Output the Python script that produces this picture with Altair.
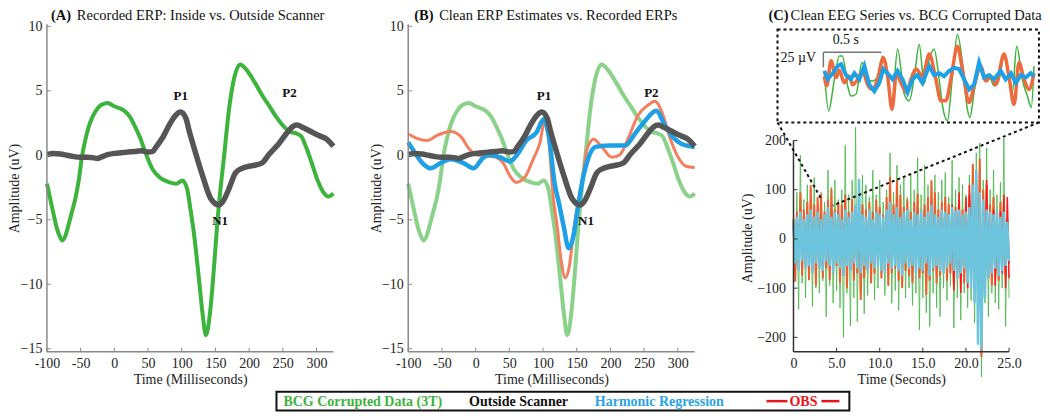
import altair as alt
import pandas as pd

FONT = "Liberation Serif"
H = 328          # plot height shared by the three panels
WA = 287
WC = 216

# ---------------- ERP data (panels A and B) ----------------
bcg_t = [-100, -95, -90, -85, -80, -77, -73, -68, -63, -58, -53, -48, -43, -38, -33, -28, -22, -15, -10, -5,
         0, 8, 15, 23, 30, 38, 47, 57, 67, 82, 92, 101, 108, 113, 118, 126, 131, 136, 142, 148,
         153, 156, 163, 170, 177, 187, 195, 209, 220, 229, 240, 253, 262, 270, 277, 284, 293, 302, 310, 318, 325]
bcg_v = [-2.2, -3.4, -4.6, -5.7, -6.4, -6.6, -6.3, -5.4, -4.4, -3.4, -2.0, -0.1, 1.2, 2.2, 2.9, 3.4, 3.8, 4.0, 4.05, 3.95,
         3.8, 3.65, 3.45, 3.0, 2.3, 1.4, 0.1, -1.1, -1.7, -2.1, -2.2, -1.95, -2.6, -4.2, -6.0, -9.8, -12.3, -13.95, -12.2, -8.6,
         -5.1, -3.4, 0.0, 3.5, 5.8, 7.05, 6.7, 5.6, 4.6, 3.9, 3.0, 2.15, 1.8, 1.7, 1.5, 0.7, -0.6, -2.0, -2.85, -3.2, -2.95]

out_t = [-100, -90, -80, -70, -60, -50, -40, -30, -25, -20, -10, 0, 10, 20, 30, 40, 50, 57, 62, 72,
         82, 91, 98, 106, 111, 121, 131, 143, 155, 162, 170, 180, 190, 200, 210, 219, 230, 244, 257, 264,
         271, 280, 295, 305, 315, 320, 325]
out_v = [0.05, 0.15, 0.1, 0.0, -0.1, -0.15, -0.15, -0.2, -0.25, -0.15, 0.05, 0.15, 0.2, 0.25, 0.3, 0.35, 0.25, 0.3, 0.65, 1.4,
         2.4, 3.1, 3.35, 2.9, 1.9, 0.1, -1.6, -3.35, -3.85, -3.5, -2.6, -1.35, -1.0, -0.85, -0.75, -0.6, 0.1, 0.9, 1.8, 2.2,
         2.35, 2.15, 1.75, 1.5, 1.25, 1.0, 0.7]

obs_t = [-100, -86, -72, -55, -37, -23, -8, 2, 15, 26, 41, 51, 60, 73, 85, 95, 102, 109, 115, 121,
         127, 133, 139, 146, 153, 158, 165, 175, 188, 202, 214, 227, 241, 256, 266, 276, 288, 300, 312, 325]
obs_v = [1.65, 1.3, 1.15, 1.6, 1.85, 1.5, 0.4, 0.02, -0.05, -0.1, -0.6, -1.6, -2.1, -1.7, -0.35, 0.9, 2.5, 0.9, -3.2, -5.5,
         -8.2, -9.5, -8.6, -5.6, -3.4, -2.0, 0.4, 1.25, 0.6, -0.15, 0.05, 1.4, 3.1, 3.9, 4.2, 3.4, 1.4, -0.1, -0.85, -0.95]

hr_t = [-100, -91, -79, -67, -52, -37, -18, -3, 11, 21, 36, 51, 63, 75, 90, 101, 109, 117, 124, 131,
        138, 145, 151, 158, 168, 178, 197, 222, 236, 251, 268, 280, 293, 305, 325]
hr_v = [1.0, 0.27, -0.6, -1.0, -0.6, -0.3, -0.6, -1.0, -0.2, 0.02, -0.15, -0.47, 0.15, 1.15, 1.75, 2.8, 1.4, -2.1, -3.8, -5.6,
        -7.2, -6.3, -4.3, -2.1, -0.1, 0.65, 0.77, 0.77, 1.65, 2.65, 3.45, 2.4, 1.4, 0.9, 0.65]

peak_names = ["P1", "P2", "N1"]
peaks_a_t = [98.5, 260, 157]
peaks_b_t = [101.5, 260.7, 163.7]
peaks_v = [4.6, 4.8, -5.1]

erp_ticks_x = [-100, -50, 0, 50, 100, 150, 200, 250, 300]
erp_ticks_y = [-15, -10, -5, 0, 5, 10]

# ---------------- EEG series (panel C), peak / trough per 0.2 s ----------------
green_hi = [60, 95, 170, 80, 110, 85, 125, 70, 95, 75,
            140, 105, 120, 80, 100, 190, 90, 120, 227, 95,
            130, 110, 85, 140, 90, 120, 75, 100, 175, 95,
            150, 110, 125, 85, 130, 100, 165, 90, 150, 110,
            80, 130, 95, 120, 135, 85, 160, 100, 125, 110,
            90, 130, 150, 175, 195, 120, 185, 100, 140, 90,
            115, 205, 70]
green_lo = [-70, -143, -90, -120, -75, -137, -100, -110, -85, -158,
            -95, -130, -105, -140, -200, -110, -177, -120, -168, -100,
            -152, -115, -90, -124, -100, -80, -115, -95, -131, -105,
            -145, -90, -120, -100, -135, -110, -185, -120, -150, -178,
            -110, -140, -158, -100, -125, -95, -181, -120, -165, -110,
            -140, -125, -171, -150, -280, -130, -158, -110, -130, -143,
            -100, -178, -120]
orange_hi = [40, 55, 95, 60, 75, 109, 70, 85, 92, 55,
             80, 102, 60, 75, 71, 90, 55, 80, 65, 50,
             70, 60, 75, 55, 80, 65, 50, 85, 126, 70,
             119, 90, 65, 80, 55, 75, 92, 60, 70, 85,
             119, 95, 60, 75, 85, 71, 55, 65, 80, 60,
             75, 90, 153, 120, 163, 100, 110, 70, 85, 60,
             75, 55, 40]
orange_lo = [-87, -60, -75, -50, -84, -65, -95, -55, -80, -60,
             -84, -70, -55, -90, -75, -100, -60, -85, -70, -124,
             -80, -60, -90, -70, -55, -80, -65, -95, -70, -60,
             -85, -100, -65, -75, -90, -60, -80, -70, -114, -85,
             -65, -90, -75, -60, -85, -70, -95, -65, -80, -90,
             -70, -85, -100, -120, -240, -110, -80, -95, -70, -85,
             -60, -75, -50]
red_hi = [25, 30, 35, 20, 30, 40, 25, 30, 35, 20,
          30, 35, 25, 30, 20, 35, 30, 25, 40, 30,
          35, 25, 30, 20, 35, 30, 25, 30, 40, 35,
          30, 25, 30, 35, 20, 30, 40, 25, 35, 30,
          45, 35, 30, 25, 40, 30, 70, 45, 95, 40,
          85, 110, 60, 50, 70, 55, 120, 45, 60, 40,
          55, 90, 85]
red_lo = [-30, -25, -35, -30, -20, -35, -30, -25, -35, -30,
          -25, -35, -30, -20, -35, -30, -25, -35, -30, -40,
          -30, -25, -35, -30, -25, -35, -30, -20, -35, -30,
          -25, -35, -30, -40, -30, -25, -35, -30, -45, -35,
          -30, -25, -35, -30, -40, -35, -105, -40, -110, -45,
          -100, -80, -60, -90, -70, -120, -55, -50, -95, -60,
          -70, -100, -80]
cyan_hi = [35, 45, 55, 40, 50, 60, 45, 55, 40, 50,
           65, 45, 55, 50, 40, 60, 45, 55, 70, 122,
           50, 45, 60, 40, 55, 50, 45, 60, 75, 50,
           65, 45, 55, 60, 40, 55, 50, 60, 45, 55,
           70, 50, 45, 60, 55, 50, 65, 58, 60, 50,
           55, 65, 110, 140, 95, 80, 60, 55, 50, 60,
           45, 55, 35]
cyan_lo = [-50, -65, -45, -60, -55, -70, -50, -60, -65, -45,
           -55, -70, -50, -60, -75, -55, -65, -50, -60, -70,
           -55, -65, -50, -60, -55, -65, -70, -50, -60, -55,
           -65, -75, -50, -60, -55, -70, -60, -65, -50, -75,
           -60, -55, -65, -70, -60, -50, -65, -80, -70, -60,
           -90, -100, -130, -215, -225, -120, -80, -70, -60, -75,
           -65, -55, -45]

c_ticks_x = [0, 5, 10, 15, 20, 25]
c_ticks_y = [-200, -100, 0, 100, 200]

# ---------------- inset (zoomed 1.8 s window) ----------------
in_green_s = [0.000, 0.037, 0.086, 0.129, 0.155, 0.201, 0.230, 0.273, 0.325, 0.373, 0.416, 0.459, 0.503, 0.546,
              0.584, 0.632, 0.690, 0.733, 0.776, 0.819, 0.862, 0.891, 0.948, 0.991, 1.020, 1.063, 1.106, 1.149,
              1.192, 1.230, 1.256, 1.293, 1.336, 1.379, 1.422, 1.466, 1.509, 1.552, 1.595, 1.623, 1.661, 1.709,
              1.753, 1.787, 1.810]
in_green_v = [6, -58, -5, 34, 34, -16, -33, -30, 23, -5, -8, -1, 34, -5,
              -44, 45, -30, -41, -2, 53, -12, 17, 45, -5, -49, -74, 0, 70,
              23, -49, -69, -27, 20, -5, 0, -16, -5, 34, 2, -27, 50, -5,
              -33, -52, 17]
in_orange_s = [0.000, 0.020, 0.058, 0.101, 0.129, 0.172, 0.216, 0.244, 0.287, 0.330, 0.373, 0.416, 0.459, 0.509,
               0.546, 0.584, 0.623, 0.661, 0.710, 0.748, 0.791, 0.848, 0.905, 0.963, 1.006, 1.049, 1.092, 1.149,
               1.192, 1.250, 1.293, 1.351, 1.394, 1.437, 1.480, 1.552, 1.595, 1.638, 1.681, 1.724, 1.767, 1.810]
in_orange_v = [0, -16, 26, -2, 10, -11, 0, -14, -5, 9, -14, -22, -5, 31,
               0, -55, 5, -11, -27, -5, 12, 0, 37, -5, -41, -41, -5, 50,
               12, -44, -16, 17, -8, 0, -14, 37, -2, -47, 23, -5, -22, 5]
in_blue_s = [0.000, 0.028, 0.072, 0.115, 0.144, 0.187, 0.230, 0.259, 0.302, 0.345, 0.388, 0.431, 0.474, 0.509,
             0.546, 0.589, 0.632, 0.675, 0.718, 0.761, 0.804, 0.847, 0.905, 0.948, 0.991, 1.034, 1.078, 1.121,
             1.164, 1.207, 1.250, 1.293, 1.336, 1.379, 1.422, 1.466, 1.523, 1.566, 1.612, 1.653, 1.696, 1.739,
             1.782, 1.810]
in_blue_v = [9, -5, 5, 17, 20, 2, -5, 5, -5, 17, -14, -25, -11, 12,
             5, -5, 9, -5, -27, -5, 2, -11, 17, 2, 5, 0, 9, 14,
             12, -5, -22, -14, 23, -2, 2, -5, 9, -5, 5, -11, 2, -2,
             5, 0]

# ---------------- legend ----------------
legend_labels = ["BCG Corrupted Data (3T)", "Outside Scanner", "Harmonic Regression", "OBS"]
legend_colors = ["#3cb43c", "#111111", "#29a3e6", "#e8141c"]

AXIS_STYLE = dict(labelFont=FONT, labelFontSize=14, labelColor="#222222", titleFont=FONT,
                  titleFontSize=14, titleFontWeight="normal", titleColor="#222222", grid=False,
                  ticks=False, domain=False, labelOverlap=False, labelFlush=False)

ONE = pd.DataFrame({"a": [0]})
TFS = 14.5   # panel title font size


# ================= helpers =================
def title_layers(tag, text, tag_x, text_x):
    t1 = alt.Chart(pd.DataFrame({"s": [tag]})).mark_text(
        align="left", baseline="alphabetic", font=FONT, fontSize=TFS, fontWeight="bold", color="#111111"
    ).encode(x=alt.value(tag_x), y=alt.value(-4), text="s:N")
    t2 = alt.Chart(pd.DataFrame({"s": [text]})).mark_text(
        align="left", baseline="alphabetic", font=FONT, fontSize=TFS, color="#111111"
    ).encode(x=alt.value(text_x), y=alt.value(-4), text="s:N")
    return [t1, t2]


def legend_layers():
    # legend strip drawn below the panels, positioned from panel A's plot origin
    top_y, bot_y = H + 40, H + 59
    mid = (top_y + bot_y) / 2
    out = [alt.Chart(ONE).mark_rect(filled=False, stroke="#111111", strokeWidth=2).encode(
        x=alt.value(230), x2=alt.value(804), y=alt.value(top_y), y2=alt.value(bot_y))]
    for lab, col, xpos in zip(legend_labels, legend_colors, [237, 423, 549, 744]):
        out.append(alt.Chart(pd.DataFrame({"s": [lab]})).mark_text(
            align="left", baseline="middle", font=FONT, fontSize=14, fontWeight="bold", color=col).encode(
            x=alt.value(xpos), y=alt.value(mid + 1), text="s:N"))
    out.append(alt.Chart(ONE).mark_rule(color="#e8141c", strokeWidth=2.5).encode(
        x=alt.value(721), x2=alt.value(742), y=alt.value(mid)))
    out.append(alt.Chart(ONE).mark_rule(color="#e8141c", strokeWidth=2.5).encode(
        x=alt.value(776), x2=alt.value(794), y=alt.value(mid)))
    return out


XDOM = [-100, 325]
YDOM = [-15.23, 10.155]


def erp_panel(lines, peaks_t, tag, text, tag_x, text_x, extra=()):
    xs = alt.Scale(domain=XDOM, nice=False, zero=False)
    ys = alt.Scale(domain=YDOM, nice=False, zero=False)
    xaxis = alt.Axis(values=erp_ticks_x, labelExpr="replace(datum.label, '\u2212', '-')",
                     orient="bottom", labelPadding=5, titlePadding=2, **AXIS_STYLE)
    yaxis = alt.Axis(values=erp_ticks_y, orient="left", labelPadding=5, titleX=-25, **AXIS_STYLE)
    X = lambda f: alt.X(f, scale=xs, axis=xaxis, title="Time (Milliseconds)")
    Y = lambda f: alt.Y(f, scale=ys, axis=yaxis, title="Amplitude (uV)")
    layers = []
    for t, v, color, width, opacity in lines:
        layers.append(alt.Chart(pd.DataFrame({"t": t, "v": v})).mark_line(
            color=color, strokeWidth=width, opacity=opacity, interpolate="monotone").encode(
            x=X("t:Q"), y=Y("v:Q")))
    # axis lines and inward ticks
    layers.append(alt.Chart(ONE).mark_rule(color="#8a8a8a", strokeWidth=1.5).encode(
        x=alt.value(0), x2=alt.value(WA), y=alt.value(H)))
    layers.append(alt.Chart(ONE).mark_rule(color="#8a8a8a", strokeWidth=1.5).encode(
        x=alt.value(0), y=alt.value(0), y2=alt.value(H)))
    layers.append(alt.Chart(pd.DataFrame({"t": erp_ticks_x})).mark_rule(color="#8a8a8a", strokeWidth=1).encode(
        x=X("t:Q"), y=alt.value(H), y2=alt.value(H - 4)))
    layers.append(alt.Chart(pd.DataFrame({"v": erp_ticks_y})).mark_rule(color="#8a8a8a", strokeWidth=1).encode(
        y=Y("v:Q"), x=alt.value(0), x2=alt.value(4)))
    layers.append(alt.Chart(pd.DataFrame({"t": peaks_t, "v": peaks_v, "n": peak_names})).mark_text(
        font=FONT, fontSize=13, fontWeight="bold", color="#111111").encode(
        x=X("t:Q"), y=Y("v:Q"), text="n:N"))
    layers += title_layers(tag, text, tag_x, text_x)
    layers += list(extra)
    return alt.layer(*layers).properties(width=WA, height=H)


panel_a = erp_panel(
    [(bcg_t, bcg_v, "#3cb43c", 4, 1.0), (out_t, out_v, "#555555", 5.5, 1.0)],
    peaks_a_t, "(A)", "Recorded ERP: Inside vs. Outside Scanner", 4, 30, extra=legend_layers())

panel_b = erp_panel(
    [(bcg_t, bcg_v, "#3cb43c", 4, 0.6), (obs_t, obs_v, "#f47f5f", 3, 1.0),
     (hr_t, hr_v, "#1ea0e6", 4.5, 1.0), (out_t, out_v, "#555555", 5.5, 1.0)],
    peaks_b_t, "(B)", "Clean ERP Estimates vs. Recorded ERPs", 6, 31)

# ================= panel C =================
cxs = alt.Scale(domain=[0, 25], nice=False, zero=False)
cys = alt.Scale(domain=[-229.2, 436.1], nice=False, zero=False)
ixs = alt.Scale(domain=[-0.267, 1.595], nice=False, zero=False)
iys = alt.Scale(domain=[-460.0, 86.7], nice=False, zero=False)


def zigzag(hi, lo):
    t, v = [], []
    for i in range(len(hi)):
        t += [round(0.4 * i, 2), round(0.4 * i + 0.2, 2)]
        v += [hi[i], lo[i]]
    return pd.DataFrame({"t": t, "v": v})


cx_axis = alt.Axis(values=c_ticks_x, labelExpr="datum.value == 0 ? '0' : format(datum.value, '.1f')",
                   orient="bottom", labelPadding=5, titlePadding=2, **AXIS_STYLE)
cy_axis = alt.Axis(values=c_ticks_y, labelPadding=8, titleX=-39, titleY=214, orient="left", **AXIS_STYLE)
CX = lambda f: alt.X(f, scale=cxs, axis=cx_axis, title="Time (Seconds)")
CY = lambda f: alt.Y(f, scale=cys, axis=cy_axis, title="Amplitude (uV)")

c_main = []
for hi, lo, color, width, opacity in [
    (green_hi, green_lo, "#4cb84c", 1.0, 0.85),
    (orange_hi, orange_lo, "#e8602c", 2.0, 1.0),
    (red_hi, red_lo, "#ff1a1a", 1.5, 1.0),
    (cyan_hi, cyan_lo, "#6cc5dc", 2.5, 1.0),
]:
    c_main.append(alt.Chart(zigzag(hi, lo)).mark_line(color=color, strokeWidth=width, opacity=opacity).encode(
        x=CX("t:Q"), y=CY("v:Q")))
c_main += [
    alt.Chart(ONE).mark_rule(color="#333333", strokeWidth=1.5).encode(
        x=alt.value(0), x2=alt.value(WC), y=alt.value(H)),
    alt.Chart(pd.DataFrame({"t": c_ticks_x})).mark_rule(color="#333333").encode(
        x=CX("t:Q"), y=alt.value(H), y2=alt.value(H - 4)),
    alt.Chart(pd.DataFrame({"v": c_ticks_y})).mark_rule(color="#333333").encode(
        y=CY("v:Q"), x=alt.value(0), x2=alt.value(4)),
    alt.Chart(pd.DataFrame({"v": [200]})).mark_rule(color="#333333", strokeWidth=1.5).encode(
        y=CY("v:Q"), y2=alt.value(H), x=alt.value(0)),
]

IX = lambda f: alt.X(f, scale=ixs, axis=None)
IY = lambda f: alt.Y(f, scale=iys, axis=None)
c_inset = []
for s, v, color, width, interp in [
    (in_green_s, in_green_v, "#3cb43c", 1.5, "monotone"),
    (in_orange_s, in_orange_v, "#ee6a3c", 3.5, "monotone"),
    (in_blue_s, in_blue_v, "#1ea0e6", 4, "linear"),
]:
    c_inset.append(alt.Chart(pd.DataFrame({"s": s, "v": v})).mark_line(
        color=color, strokeWidth=width, interpolate=interp).encode(x=IX("s:Q"), y=IY("v:Q")))

box = pd.DataFrame({"s0": [-0.405], "s1": [1.853], "v0": [-77], "v1": [78]})
c_inset.append(alt.Chart(box).mark_rect(filled=False, stroke="#111111", strokeWidth=2, strokeDash=[3, 3]).encode(
    x=IX("s0:Q"), x2="s1:Q", y=IY("v0:Q"), y2="v1:Q"))
conn = pd.DataFrame({"s0": [-0.405, 1.853], "v0": [-77, -77], "s1": [-0.026, 0.072], "v1": [-205, -215.8]})
c_inset.append(alt.Chart(conn).mark_rule(color="#111111", strokeWidth=2, strokeDash=[3, 3]).encode(
    x=IX("s0:Q"), x2="s1:Q", y=IY("v0:Q"), y2="v1:Q"))
bars = pd.DataFrame({"s0": [-0.009, -0.009], "s1": [0.491, -0.009], "v0": [40, 40], "v1": [40, 15]})
c_inset.append(alt.Chart(bars).mark_rule(color="#777777", strokeWidth=1.5).encode(
    x=IX("s0:Q"), x2="s1:Q", y=IY("v0:Q"), y2="v1:Q"))
c_inset.append(alt.Chart(pd.DataFrame({"s": [0.185], "v": [53.3], "n": ["0.5 s"]})).mark_text(
    font=FONT, fontSize=14, baseline="alphabetic", align="center", color="#111111").encode(
    x=IX("s:Q"), y=IY("v:Q"), text="n:N"))
c_inset.append(alt.Chart(pd.DataFrame({"s": [-0.072], "v": [23.3], "n": ["25 \u00b5V"]})).mark_text(
    font=FONT, fontSize=14, baseline="alphabetic", align="right", color="#111111").encode(
    x=IX("s:Q"), y=IY("v:Q"), text="n:N"))

panel_c = alt.layer(
    alt.layer(*c_main),
    alt.layer(*c_inset),
    *title_layers("(C)", "Clean EEG Series vs. BCG Corrupted Data", -25, -3),
).resolve_scale(x="independent", y="independent").properties(width=WC, height=H)

chart = (
    alt.hconcat(panel_a, alt.hconcat(panel_b, panel_c, spacing=99, bounds="flush"),
                spacing=75, bounds="flush")
    .properties(padding=0)
    .configure_view(strokeWidth=0)
)

chart.save("out.html", embed_options={"renderer": "svg", "actions": False})
